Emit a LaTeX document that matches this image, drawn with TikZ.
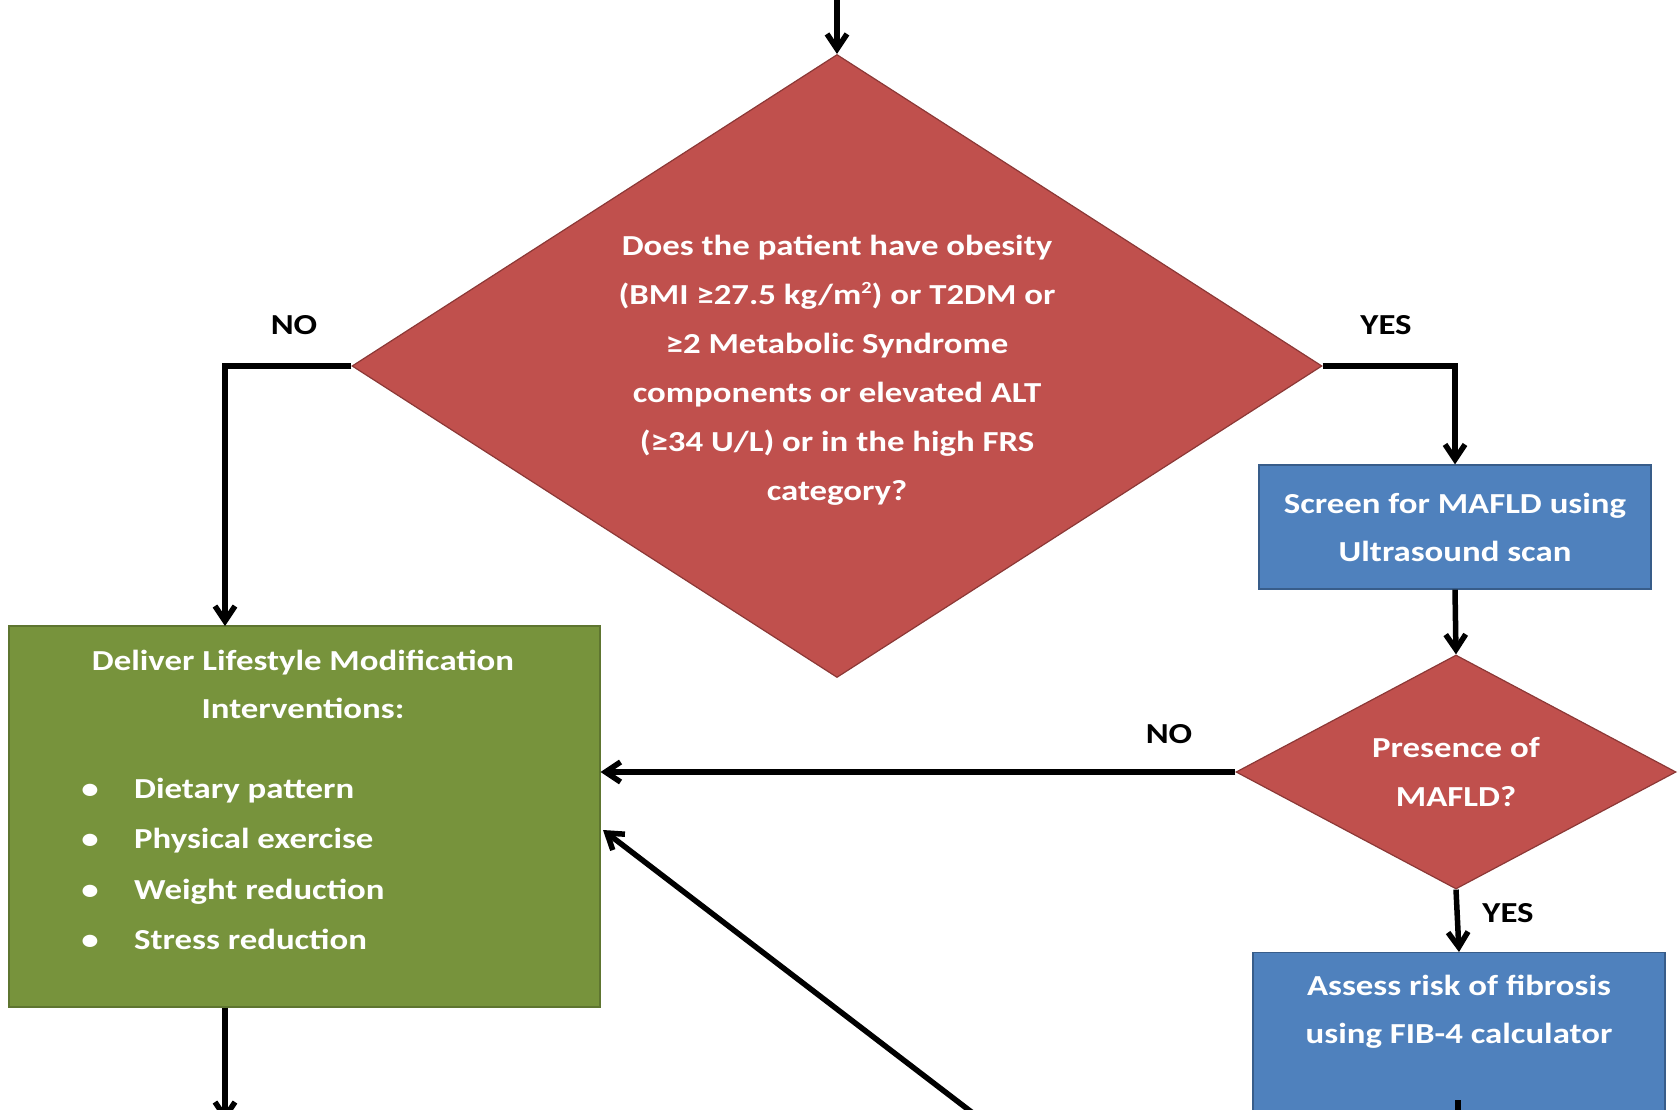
\documentclass[tikz,border=0pt]{standalone}
\usepackage{fontspec}
\setmainfont{Carlito}[FakeStretch=1.2]
\usetikzlibrary{shapes.geometric,arrows.meta}

\definecolor{askred}{HTML}{C0504D}
\definecolor{askredline}{HTML}{8C3836}
\definecolor{stepblue}{HTML}{4F81BD}
\definecolor{stepblueline}{HTML}{385D8A}
\definecolor{lifegreen}{HTML}{77933C}
\definecolor{lifegreenline}{HTML}{5E7530}

\tikzset{
  flow/.style={line width=5.5pt, -{Straight Barb[length=15pt,width=20pt]}},
  plain/.style={line width=5.5pt},
  boxtext/.style={text=white, align=center, inner sep=0pt,
    font=\bfseries\fontsize{29}{48}\selectfont},
  question/.style={diamond, aspect=1.56, fill=askred, draw=askredline,
    line width=1.2pt, boxtext, font=\bfseries\fontsize{29}{49}\selectfont},
  stepbox/.style={rectangle, fill=stepblue, draw=stepblueline,
    line width=1.2pt, boxtext},
  lifebox/.style={rectangle, fill=lifegreen, draw=lifegreenline,
    line width=1.2pt},
  answer/.style={font=\bfseries\fontsize{29}{34}\selectfont, inner sep=0pt}
}

\begin{document}
\begin{tikzpicture}[x=1pt, y=-1pt]
  \useasboundingbox (0,0) rectangle (1678,1110);

  %% ── Decision: risk factors ─────────────────────────────────
  \node[question, minimum width=970, minimum height=623] (ask) at (837,366)
    {\rule{0pt}{29pt}Does the patient have obesity\\
     (BMI ≥27.5 kg/m\raisebox{11pt}{\fontsize{17}{17}\selectfont 2}) or T2DM or\\
     ≥2 Metabolic Syndrome\\
     components or elevated ALT\\
     (≥34 U/L) or in the high FRS\\
     category?};

  %% ── Screening branch ───────────────────────────────────────
  \node[stepbox, minimum width=392, minimum height=124] (screen) at (1455,527)
    {Screen for MAFLD using\\Ultrasound scan};
  \node[question, minimum width=440, minimum height=234] (mafld) at (1456,772)
    {Presence of\\MAFLD?};
  \node[stepbox, minimum width=412, minimum height=190, anchor=north] (fib)
    at (1459,952) {};
  \node[boxtext] (fibtext) at (1459,1012)
    {Assess risk of fibrosis\\using FIB-4 calculator};

  %% ── Lifestyle box ──────────────────────────────────────────
  \node[lifebox, minimum width=591, minimum height=381] (life) at (304.5,816.5) {};
  \node[boxtext] (lifetitle) at (303,684)
    {Deliver Lifestyle Modification\\Interventions:};
  \foreach \k/\item in {0/Dietary pattern, 1/Physical exercise,
                        2/Weight reduction, 3/Stress reduction}{
    \node[boxtext, anchor=base] (dot\k) at (90, {798+50.5*\k}) {•};
    \node[boxtext, anchor=base west] (item\k) at (134, {798+50.5*\k}) {\item};
  }

  %% ── Answer labels ──────────────────────────────────────────
  \node[answer] (noask)    at (294,325)  {NO};
  \node[answer] (yesask)   at (1386,325) {YES};
  \node[answer] (nomafld)  at (1169,734) {NO};
  \node[answer] (yesmafld) at (1508,913) {YES};

  %% ── Connectors ─────────────────────────────────────────────
  \coordinate (entry)    at (837,-10);
  \coordinate (lifein)   at (225,626);
  \coordinate (lifeout)  at (225,1122);
  \coordinate (lifeback) at (603,830);
  \coordinate (loopsrc)  at (1008,1140);
  \coordinate (fibout)   at (1458,1100);

  \draw[flow]  (entry) -- (ask.north);
  \draw[flow]  (ask.west) -| (lifein);
  \draw[flow]  (ask.east) -| (screen.north);
  \draw[flow]  (screen.south) -- (mafld.north);
  \draw[flow]  (mafld.west) -- (life.east |- mafld.west);
  \draw[flow]  (mafld.south) -- (fib.north);
  \draw[flow]  (loopsrc) -- (lifeback);
  \draw[flow]  (lifein |- life.south) -- (lifeout);
  \draw[plain] (fibout) -- ++(0,20);
\end{tikzpicture}
\end{document}
